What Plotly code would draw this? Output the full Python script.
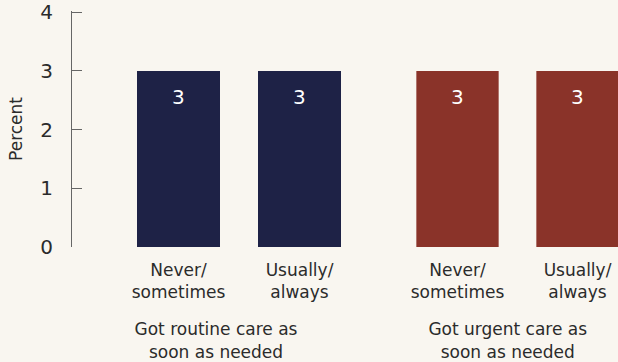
import plotly.graph_objects as go

categories = ["Never/<br>sometimes", "Usually/<br>always"]
group_titles = ["Got routine care as<br>soon as needed", "Got urgent care as<br>soon as needed"]
routine_values = [3, 3]
urgent_values = [3, 3]
y_ticks = [0, 1, 2, 3, 4]

navy = "rgb(30,34,70)"
red = "rgb(138,51,41)"
bg = "rgb(249,246,240)"
txt = "#2b2b2b"
font_family = "DejaVu Sans, sans-serif"

fig = go.Figure()
fig.add_trace(go.Bar(x=categories, y=routine_values, marker_color=navy, xaxis="x", yaxis="y",
                     marker_line_width=0, hoverinfo="skip"))
fig.add_trace(go.Bar(x=categories, y=urgent_values, marker_color=red, xaxis="x2", yaxis="y2",
                     marker_line_width=0, hoverinfo="skip"))

for xa, ya, vals in (("x", "y", routine_values), ("x2", "y2", urgent_values)):
    for c, v in zip(categories, vals):
        fig.add_annotation(x=c, y=v, xref=xa, yref=ya, text=str(v), showarrow=False,
                           yshift=-26, font=dict(color="white", size=20, family=font_family))

W, H = 618, 362
L = 72
plot_w = W - L

def frac(px):
    return (px - L) / plot_w

axis_common = dict(type="category", showgrid=False, showline=False, ticks="", zeroline=False,
                   tickfont=dict(size=17, color=txt, family=font_family),
                   ticklabelstandoff=11)

y_range = [0, 4.02]

fig.update_layout(
    width=W, height=H,
    margin=dict(l=L, r=0, t=9, b=115),
    paper_bgcolor=bg, plot_bgcolor=bg,
    showlegend=False,
    bargap=0.314,
    xaxis=dict(domain=[0, frac(360)], range=[-0.5 - 46 / 121, 1.5],
               title=dict(text=group_titles[0], standoff=22,
                          font=dict(size=17, color=txt, family=font_family)),
               **axis_common),
    xaxis2=dict(domain=[frac(397.5), 1], range=[-0.5, 1.3375], anchor="y2",
                title=dict(text=group_titles[1], standoff=22,
                           font=dict(size=17, color=txt, family=font_family)),
                **axis_common),
    yaxis=dict(range=y_range, tickvals=y_ticks, showgrid=False, zeroline=False,
               showline=True, linecolor="#666", linewidth=1,
               ticks="inside", ticklen=10, tickcolor="#666",
               ticklabelstandoff=14, ticklabeloverflow="allow",
               tickfont=dict(size=20, color=txt, family=font_family),
               title=dict(text="Percent", standoff=13,
                          font=dict(size=17, color=txt, family=font_family))),
    yaxis2=dict(range=y_range, anchor="x2", domain=[0, 1],
                showticklabels=False, showgrid=False, zeroline=False, showline=False, ticks=""),
)

fig.write_html("out.html")
